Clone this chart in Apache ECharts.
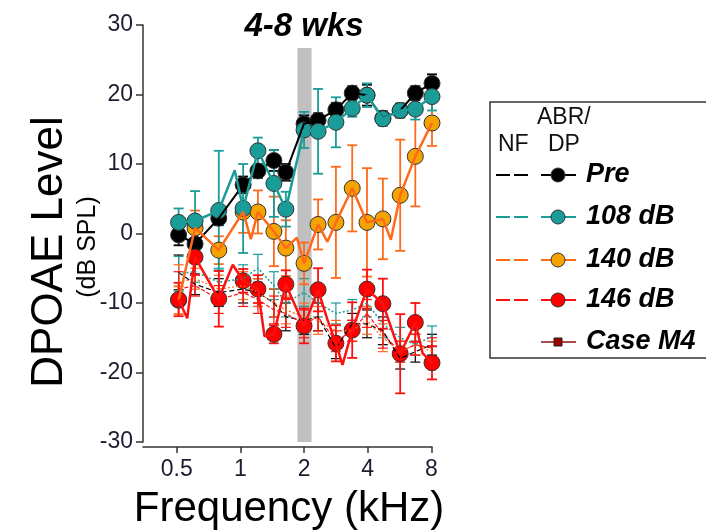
<!DOCTYPE html>
<html>
<head>
<meta charset="utf-8">
<script src="https://cdn.jsdelivr.net/npm/echarts@6/dist/echarts.min.js"></script>
<style>
  html, body { margin: 0; padding: 0; background: #fff; }
  #main { width: 706px; height: 532px; }
</style>
</head>
<body>
<div id="main"></div>
<script>
// frequencies (kHz) where DP markers sit
var freqs = [0.51, 0.61, 0.79, 1.03, 1.21, 1.44, 1.64, 2.0, 2.33, 2.83, 3.38, 3.97, 4.72, 5.70, 6.72, 8.06];
var tickFreqs = [0.5, 1, 2, 4, 8];

// DP levels (dB SPL) and error bars
var dpPre = [-0.2, -1.5, 2.2, 7.0, 9.0, 10.5, 8.8, 15.8, 16.3, 17.8, 20.2, 19.9, 16.6, 17.7, 20.2, 21.6];
var errPre = [1.5, 2.0, 1.0, 1.2, 1.0, 1.5, 1.2, 1.2, 1.0, 1.0, 1.0, 1.5, 1.0, 1.0, 1.0, 1.3];
var dp108 = [1.6, 1.8, 3.3, 3.6, 11.9, 7.2, 3.5, 14.9, 14.7, 16.0, 18.0, 19.9, 16.5, 17.7, 17.9, 19.7];
var err108 = [2.0, 4.3, 8.6, 6.4, 1.9, 4.8, 2.5, 2.6, 6.1, 3.6, 1.2, 1.7, 1.0, 0.6, 1.5, 2.0];
var dp140 = [-9.6, 0.8, -2.4, 3.1, 3.1, 0.3, -2.1, -4.3, 1.3, 1.6, 6.5, 1.6, 2.1, 5.5, 11.1, 15.9];
var err140 = [2.0, 2.5, 2.0, 3.0, 3.1, 5.0, 4.0, 3.0, 3.6, 8.0, 6.2, 7.8, 5.8, 8.0, 7.2, 3.3];
var dp146 = [-9.5, -3.4, -9.4, -6.8, -8.0, -14.5, -7.3, -13.3, -8.1, -15.8, -13.9, -8.0, -10.1, -17.3, -12.8, -18.6];
var err146 = [2.4, 2.5, 4.0, 1.7, 2.0, 1.3, 2.0, 2.5, 3.1, 2.6, 4.0, 2.8, 3.6, 5.7, 2.8, 2.4];

// line vertices (markers plus the visible bends between them)
var line108F = [0.51, 0.61, 0.79, 0.94, 1.03, 1.21, 1.44, 1.64, 2.0, 2.33, 2.83, 3.38, 3.97, 4.72, 5.70, 6.72, 8.06];
var line108V = [1.6, 1.8, 3.3, 9.1, 3.6, 11.9, 7.2, 3.5, 14.9, 14.7, 16.0, 18.0, 19.9, 16.5, 17.7, 17.9, 19.7];
var line140F = [0.51, 0.61, 0.79, 1.03, 1.12, 1.21, 1.44, 1.64, 1.85, 2.0, 2.33, 2.58, 2.83, 3.38, 3.97, 4.72, 5.15, 5.70, 6.72, 8.06];
var line140V = [-9.6, 0.8, -2.4, 3.1, -0.8, 3.1, 0.3, -2.1, -0.6, -4.3, 1.3, -1.2, 1.6, 6.5, 1.6, 2.1, -0.9, 5.5, 11.1, 15.9];
var line146F = [0.51, 0.56, 0.61, 0.79, 0.92, 1.03, 1.21, 1.30, 1.44, 1.64, 2.0, 2.33, 2.58, 2.83, 3.04, 3.38, 3.97, 4.72, 5.70, 6.72, 7.27, 8.06];
var line146V = [-9.5, -12.2, -3.4, -9.4, -4.5, -6.8, -8.0, -14.8, -14.5, -7.3, -13.3, -8.1, -12.4, -15.8, -18.9, -13.9, -8.0, -10.1, -17.3, -12.8, -17.2, -18.6];

// noise floors
var nfPre = [-5.6, -7.3, -8.5, -8.0, -8.5, -10.0, -12.0, -12.5, -12.0, -16.5, -13.0, -13.0, -14.0, -18.0, -17.0, -16.0];
var nf108 = [-5.8, -5.5, -7.0, -6.5, -5.0, -7.5, -10.0, -8.5, -10.0, -11.5, -11.0, -10.0, -13.0, -15.0, -16.0, -14.8];
var nf140 = [-7.0, -6.5, -8.0, -7.5, -8.5, -10.0, -11.0, -12.0, -12.5, -14.0, -14.0, -12.5, -15.0, -17.0, -16.0, -17.0];
var nf146 = [-8.0, -7.5, -9.5, -8.5, -9.5, -11.0, -11.5, -13.0, -12.0, -15.5, -14.0, -11.5, -14.5, -17.0, -16.0, -16.5];
var nfErr = [2.5, 1.5, 2.0, 2.0, 2.0, 2.0, 2.0, 2.0, 2.0, 1.5, 1.5, 2.0, 2.0, 1.5, 1.5, 1.5];

var band = [1.86, 2.17];

var cBlack = '#000', cTeal = '#1a9c99', cOrange = '#ff6a1a', cOrangeFill = '#f5a300', cRed = '#ff1010';
var ff = '"Liberation Sans", Arial, sans-serif';

function pairs(xs, ys) {
  return xs.map(function (x, i) { return [x, ys[i]]; });
}
function bars(ys, es) {
  return freqs.map(function (f, i) { return [f, ys[i] - es[i], ys[i] + es[i]]; });
}
function errRender(color, w) {
  return function (params, api) {
    var a = api.coord([api.value(0), api.value(1)]);
    var b = api.coord([api.value(0), api.value(2)]);
    var cap = 5, st = { stroke: color, lineWidth: w };
    return {
      type: 'group',
      children: [
        { type: 'line', shape: { x1: a[0], y1: a[1], x2: b[0], y2: b[1] }, style: st },
        { type: 'line', shape: { x1: a[0] - cap, y1: a[1], x2: a[0] + cap, y2: a[1] }, style: st },
        { type: 'line', shape: { x1: b[0] - cap, y1: b[1], x2: b[0] + cap, y2: b[1] }, style: st }
      ]
    };
  };
}
function errSeries(ys, es, color, w) {
  return { type: 'custom', renderItem: errRender(color, w), data: bars(ys, es), encode: { x: 0, y: [1, 2] }, silent: true };
}
function lineSeries(data, color, w, dash) {
  return { type: 'line', data: data, showSymbol: false, silent: true,
    lineStyle: { color: color, width: w, type: dash || 'solid' } };
}
function markSeries(ys, fill) {
  return { type: 'scatter', data: pairs(freqs, ys), symbol: 'circle', symbolSize: 16, silent: true,
    itemStyle: { color: fill, borderColor: '#333', borderWidth: 1, opacity: 1 } };
}

var series = [
  { type: 'line', data: [], silent: true,
    markArea: { silent: true, itemStyle: { color: '#c0c0c0' },
      data: [[{ xAxis: band[0], yAxis: -30 }, { xAxis: band[1], yAxis: 26.7 }]] } },
  errSeries(nfPre, nfErr, cBlack, 1.2), lineSeries(pairs(freqs, nfPre), cBlack, 1.2, [5, 3]),
  errSeries(nf108, nfErr, cTeal, 1.2), lineSeries(pairs(freqs, nf108), cTeal, 1.5, [2, 2]),
  errSeries(nf140, nfErr, cOrange, 1.2), lineSeries(pairs(freqs, nf140), cOrange, 1.2, [2, 2]),
  errSeries(nf146, nfErr, cRed, 1.2), lineSeries(pairs(freqs, nf146), cRed, 1.2, [4, 2]),
  errSeries(dpPre, errPre, cBlack, 1.8), lineSeries(pairs(freqs, dpPre), cBlack, 2), markSeries(dpPre, '#000'),
  errSeries(dp140, err140, cOrange, 1.8), lineSeries(pairs(line140F, line140V), cOrange, 2.5), markSeries(dp140, cOrangeFill),
  errSeries(dp108, err108, cTeal, 1.8), lineSeries(pairs(line108F, line108V), cTeal, 2.5), markSeries(dp108, cTeal),
  errSeries(dp146, err146, cRed, 1.8), lineSeries(pairs(line146F, line146V), cRed, 2.5), markSeries(dp146, '#ff0000')
];

// legend drawn as graphics (two columns: NF / ABR-DP)
var legendRows = [
  { name: 'Pre', color: cBlack, fill: '#000', y: 175 },
  { name: '108 dB', color: cTeal, fill: cTeal, y: 217 },
  { name: '140 dB', color: cOrange, fill: cOrangeFill, y: 260 },
  { name: '146 dB', color: cRed, fill: '#ff0000', y: 300 }
];
var lfont = 'bold italic 27px ' + ff;
var sfont = '23px ' + ff;
var graphics = [
  { type: 'rect', shape: { x: 490, y: 102, width: 225, height: 256 }, style: { fill: '#fff', stroke: '#333', lineWidth: 1.5 } },
  { type: 'text', x: 537, y: 118, style: { text: 'ABR/', font: sfont, fill: '#111', textVerticalAlign: 'middle' } },
  { type: 'text', x: 498, y: 145, style: { text: 'NF', font: sfont, fill: '#111', textVerticalAlign: 'middle' } },
  { type: 'text', x: 548, y: 145, style: { text: 'DP', font: sfont, fill: '#111', textVerticalAlign: 'middle' } }
];
legendRows.forEach(function (r) {
  graphics.push({ type: 'line', shape: { x1: 496, y1: r.y, x2: 531, y2: r.y }, style: { stroke: r.color, lineWidth: 2, lineDash: [14, 4] } });
  graphics.push({ type: 'line', shape: { x1: 541, y1: r.y, x2: 576, y2: r.y }, style: { stroke: r.color, lineWidth: 2 } });
  graphics.push({ type: 'circle', shape: { cx: 558, cy: r.y, r: 7 }, style: { fill: r.fill, stroke: '#333', lineWidth: 1 } });
  graphics.push({ type: 'text', x: 586, y: r.y, style: { text: r.name, font: lfont, fill: '#000', textVerticalAlign: 'middle' } });
});
graphics.push({ type: 'line', shape: { x1: 541, y1: 342, x2: 576, y2: 342 }, style: { stroke: '#8b1010', lineWidth: 1.5 } });
graphics.push({ type: 'rect', shape: { x: 554, y: 338, width: 8, height: 8 }, style: { fill: '#a00000', stroke: '#222', lineWidth: 1 } });
graphics.push({ type: 'text', x: 586, y: 342, style: { text: 'Case M4', font: lfont, fill: '#000', textVerticalAlign: 'middle' } });

// titles
graphics.push({ type: 'text', x: 304, y: 27, style: { text: '4-8 wks', font: 'bold italic 33px ' + ff, fill: '#000', textAlign: 'center', textVerticalAlign: 'middle' } });
graphics.push({ type: 'text', x: 289, y: 509, style: { text: 'Frequency (kHz)', font: '42px ' + ff, fill: '#000', textAlign: 'center', textVerticalAlign: 'middle' } });
graphics.push({ type: 'text', x: 50, y: 252, rotation: Math.PI / 2, style: { text: 'DPOAE Level', font: '44px ' + ff, fill: '#000', textAlign: 'center', textVerticalAlign: 'middle' } });
graphics.push({ type: 'text', x: 88, y: 247, rotation: Math.PI / 2, style: { text: '(dB SPL)', font: '25px ' + ff, fill: '#000', textAlign: 'center', textVerticalAlign: 'middle' } });

var chart = echarts.init(document.getElementById('main'), null, { renderer: 'canvas' });
chart.setOption({
  animation: false,
  backgroundColor: '#fff',
  grid: { left: 143, right: 274, top: 25, bottom: 90, containLabel: false },
  xAxis: {
    type: 'log', logBase: 2, min: 0.346, max: 8.06, offset: 5,
    axisLine: { onZero: false, lineStyle: { color: '#333', width: 1.5 } },
    axisTick: { show: true, length: 6, inside: false, customValues: tickFreqs, lineStyle: { color: '#333', width: 1.5 } },
    axisLabel: { customValues: tickFreqs, color: '#1c1c30', fontSize: 23, margin: 11,
      fontFamily: ff, formatter: function (v) { return String(v); } },
    splitLine: { show: false }
  },
  yAxis: {
    type: 'value', min: -30, max: 30, interval: 10,
    axisLine: { show: true, lineStyle: { color: '#333', width: 1.5 } },
    axisTick: { show: true, length: 7, lineStyle: { color: '#333', width: 1.5 } },
    axisLabel: { color: '#1c1c30', fontSize: 23, margin: 10, fontFamily: ff },
    splitLine: { show: false }
  },
  graphic: graphics,
  series: series
});
</script>
</body>
</html>
